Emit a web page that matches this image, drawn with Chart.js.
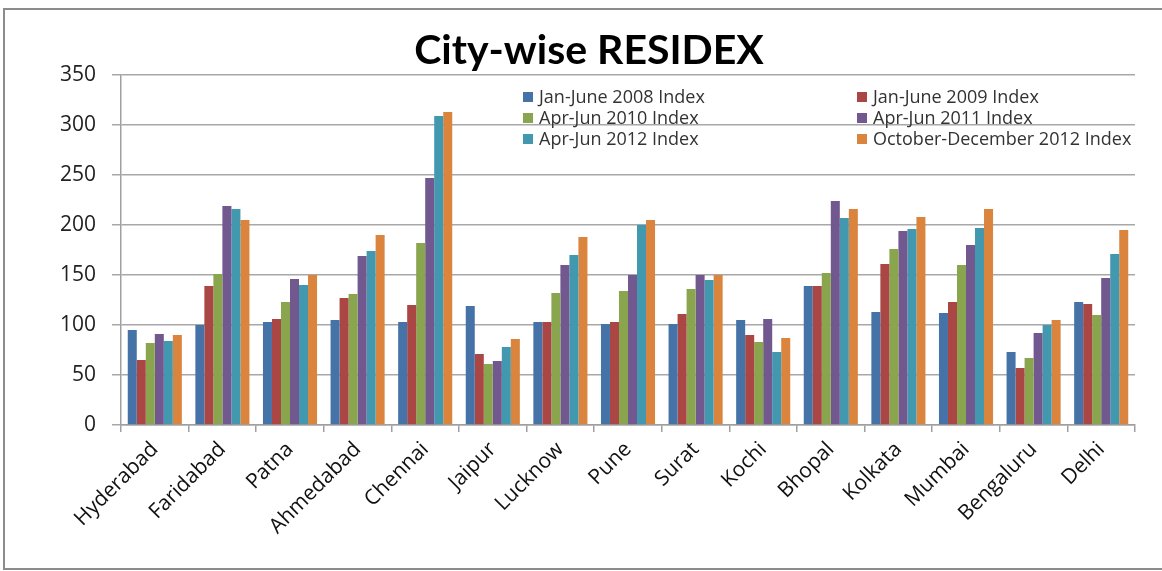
<!DOCTYPE html>
<html>
<head>
<meta charset="utf-8">
<script src="https://cdn.jsdelivr.net/npm/chart.js@4"></script>
<style>
    body { margin: 0; background: #fff; }
    #wrap { position: relative; width: 1162px; height: 571px; overflow: hidden; }
    #frame { position: absolute; left: 3px; top: 8px; width: 1200px; height: 562px; border: 2px solid #8c8c8c; box-sizing: border-box; pointer-events: none; }
    #title { position: absolute; left: 0; top: 26px; width: 1178px; text-align: center; font: 700 41px Lato, sans-serif; line-height: 46px; color: #000; }
    #legend { position: absolute; left: 0; top: 0; font: 18px "Open Sans", sans-serif; color: #333; }
    .item { position: absolute; white-space: nowrap; line-height: 20px; }
    .item span.box { display: inline-block; width: 10px; height: 10px; margin-right: 6px; vertical-align: 1px; }
</style>
</head>
<body>
<div id="wrap">
    <canvas id="chart" width="1162" height="571"></canvas>
    <div id="title">City-wise RESIDEX</div>
    <div id="legend"></div>
    <div id="frame"></div>
</div>
<script>
const cities = ["Hyderabad", "Faridabad", "Patna", "Ahmedabad", "Chennai", "Jaipur", "Lucknow", "Pune",
    "Surat", "Kochi", "Bhopal", "Kolkata", "Mumbai", "Bengaluru", "Delhi"];

const seriesLabels = ["Jan-June 2008 Index", "Jan-June 2009 Index", "Apr-Jun 2010 Index",
    "Apr-Jun 2011 Index", "Apr-Jun 2012 Index", "October-December 2012 Index"];

const jan2008 = [95, 100, 103, 105, 103, 119, 103, 101, 101, 105, 139, 113, 112, 73, 123];
const jan2009 = [65, 139, 106, 127, 120, 71, 103, 103, 111, 90, 139, 161, 123, 57, 121];
const apr2010 = [82, 151, 123, 131, 182, 61, 132, 134, 136, 83, 152, 176, 160, 67, 110];
const apr2011 = [91, 219, 146, 169, 247, 64, 160, 150, 150, 106, 224, 194, 180, 92, 147];
const apr2012 = [84, 216, 140, 174, 309, 78, 170, 200, 145, 73, 207, 196, 197, 100, 171];
const octDec2012 = [90, 205, 150, 190, 313, 86, 188, 205, 150, 87, 216, 208, 216, 105, 195];

const yTicks = [0, 50, 100, 150, 200, 250, 300, 350];

const colors = ['#4572a7', '#aa4643', '#89a54e', '#71588f', '#4198af', '#db843d'];
const seriesData = [jan2008, jan2009, apr2010, apr2011, apr2012, octDec2012];

// legend: two columns, three rows, inside the plot area
function buildLegend() {
    const legend = document.getElementById('legend');
    const colX = [523, 857];
    const rowY = [86, 107, 128];
    seriesLabels.forEach((label, i) => {
        const div = document.createElement('div');
        div.className = 'item';
        div.style.left = colX[i % 2] + 'px';
        div.style.top = rowY[Math.floor(i / 2)] + 'px';
        div.innerHTML = `<span class="box" style="background:${colors[i]}"></span>${label}`;
        legend.appendChild(div);
    });
}

const datasets = seriesData.map((values, i) => ({
    label: seriesLabels[i],
    data: values,
    backgroundColor: colors[i],
    borderWidth: 0,
    categoryPercentage: 0.8,
    barPercentage: 1.0
}));

new Chart(document.getElementById('chart'), {
    type: 'bar',
    data: { labels: cities, datasets: datasets },
    options: {
        responsive: false,
        animation: false,
        layout: { padding: { top: 75, left: 0, right: 27, bottom: 6 } },
        plugins: {
            legend: { display: false },
            title: { display: false },
            tooltip: { enabled: false }
        },
        scales: {
            x: {
                afterFit: scale => { scale.height = 140; },
                grid: { drawOnChartArea: false, drawTicks: true, tickLength: 7, color: '#a0a0a0', lineWidth: 1.5 },
                border: { color: '#a0a0a0', width: 1.5 },
                ticks: {
                    minRotation: 45, maxRotation: 45, autoSkip: false, padding: 5,
                    color: '#111', font: { family: 'Open Sans', size: 21 }
                }
            },
            y: {
                min: 0, max: 350,
                afterFit: scale => { scale.width = 121; },
                afterBuildTicks: scale => { scale.ticks = yTicks.map(v => ({ value: v })); },
                grid: { color: '#a8a8a8', lineWidth: 1.5, tickLength: 9 },
                border: { color: '#a0a0a0', width: 1.5 },
                ticks: { padding: 16, color: '#222', font: { family: 'Open Sans', size: 21 } }
            }
        }
    }
});

buildLegend();
</script>
</body>
</html>
